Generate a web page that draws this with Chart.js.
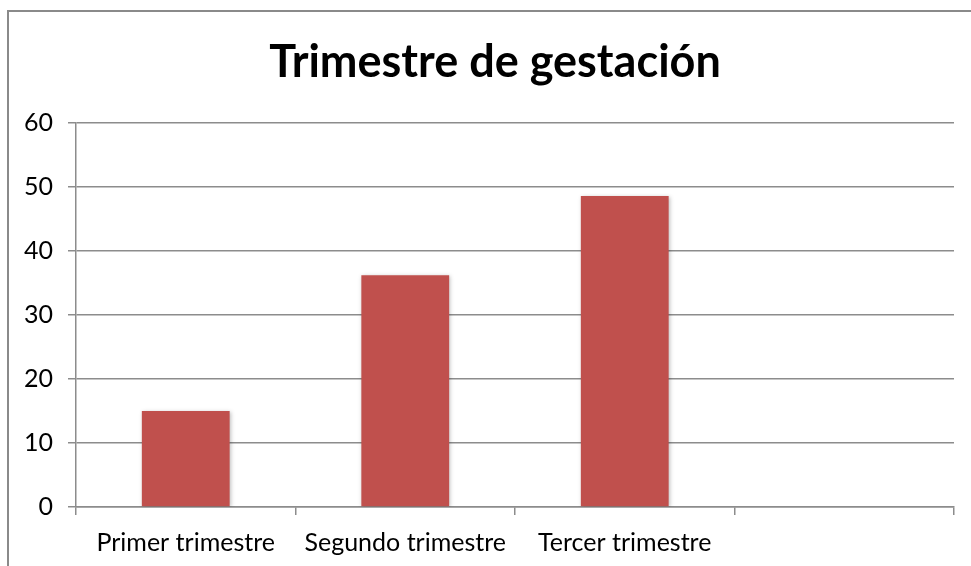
<!DOCTYPE html>
<html>
<head>
<meta charset="utf-8">
<script src="https://cdn.jsdelivr.net/npm/chart.js@4/dist/chart.umd.min.js"></script>
<style>
  body { margin: 0; background: #fff; }
  #marco { position: relative; width: 971px; height: 566px; overflow: hidden; }
  #borde { position: absolute; left: 7px; top: 10px; width: 1000px; height: 600px;
           border-left: 2px solid #8a8a8a; border-top: 2px solid #8a8a8a; }
  canvas { position: absolute; left: 0; top: 0; }
</style>
</head>
<body>
<div id="marco">
  <div id="borde"></div>
  <canvas id="grafica-trimestre" width="971" height="566"></canvas>
</div>
<script>
const categorias = ["Primer trimestre", "Segundo trimestre", "Tercer trimestre", ""];
const valores = [15, 36.2, 48.6, null];
const marcasY = [0, 10, 20, 30, 40, 50, 60];

const colorBarra = "#C0504D";
const colorLinea = "#8c8c8c";
const fuente = "Lato, 'Noto Sans', sans-serif";

// sombra suave detras de las barras
const sombraBarras = {
    id: "sombraBarras",
    beforeDatasetsDraw(chart) {
        const ctx = chart.ctx;
        ctx.save();
        ctx.shadowColor = "rgba(0,0,0,0.25)";
        ctx.shadowBlur = 4;
        ctx.shadowOffsetX = 1;
        ctx.shadowOffsetY = 1;
    },
    afterDatasetsDraw(chart) {
        chart.ctx.restore();
    }
};

// el titulo del original queda algo a la derecha del centro
const moverTitulo = {
    id: "moverTitulo",
    afterLayout(chart) {
        if (chart.titleBlock) {
            chart.titleBlock.left += 18;
            chart.titleBlock.right += 18;
        }
    }
};

const crearGrafico = () => {
    let contexto = document.getElementById("grafica-trimestre").getContext("2d");
    let grafico = new Chart(contexto, {
        type: "bar",
        data: {
            labels: categorias,
            datasets: [{
                label: "Trimestre de gestación",
                data: valores,
                backgroundColor: colorBarra,
                borderWidth: 0,
                categoryPercentage: 1,
                barPercentage: 0.4,
            }],
        },
        options: {
            responsive: false,
            animation: false,
            layout: { padding: { left: 0, right: 17, top: 0, bottom: 0 } },
            plugins: {
                legend: { display: false },
                tooltip: { enabled: false },
                title: {
                    display: true,
                    text: "Trimestre de gestación",
                    color: "#000",
                    font: { family: fuente, size: 45, weight: "bold" },
                    padding: { top: 35, bottom: 34 },
                },
            },
            scales: {
                y: {
                    min: 0,
                    max: 60,
                    afterBuildTicks: (eje) => {
                        eje.ticks = marcasY.map((v) => ({ value: v }));
                    },
                    afterFit: (eje) => { eje.width = 76; },
                    ticks: {
                        color: "#000",
                        padding: 15,
                        font: { family: fuente, size: 25 },
                    },
                    grid: {
                        color: colorLinea,
                        lineWidth: 1.5,
                        tickLength: 8,
                    },
                    border: { display: true, color: colorLinea, width: 1.5 },
                },
                x: {
                    offset: true,
                    afterFit: (eje) => { eje.height = 59; },
                    ticks: {
                        color: "#000",
                        padding: 13,
                        maxRotation: 0,
                        autoSkip: false,
                        font: { family: fuente, size: 25 },
                    },
                    grid: {
                        offset: true,
                        drawOnChartArea: false,
                        color: colorLinea,
                        lineWidth: 1.5,
                        tickLength: 8,
                    },
                    border: { display: true, color: colorLinea, width: 1.5 },
                },
            },
        },
        plugins: [sombraBarras, moverTitulo],
    });
};

crearGrafico();
</script>
</body>
</html>
